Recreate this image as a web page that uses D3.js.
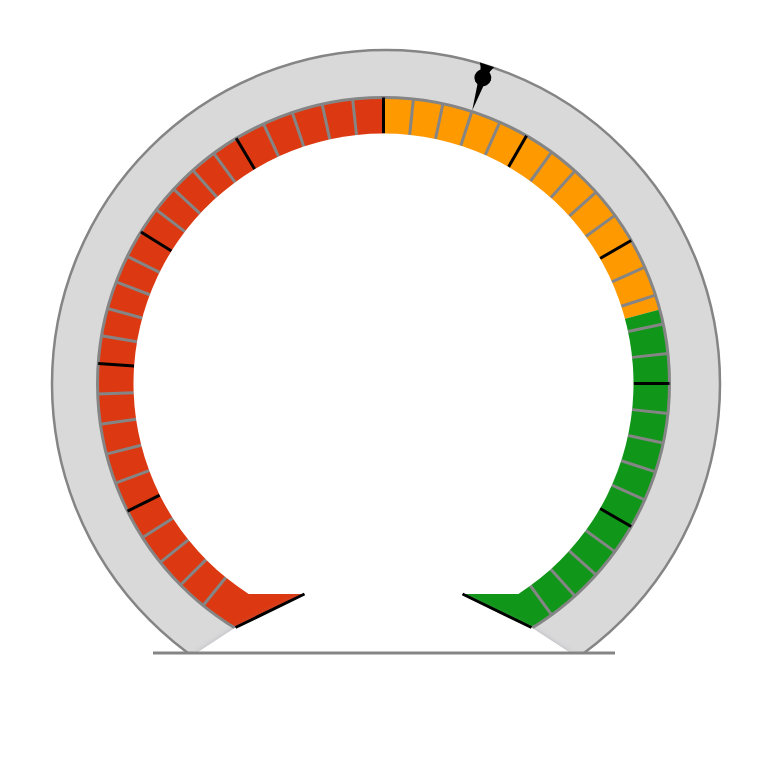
<!DOCTYPE html>
<html>
<head>
<meta charset="utf-8">
<script src="https://cdn.jsdelivr.net/npm/d3@7"></script>
<style>
  html, body { margin: 0; padding: 0; background: #fff; }
</style>
</head>
<body>
<svg id="chart" width="768" height="768"></svg>
<script>
// gauge data
const bandStarts = [0, 50, 75];
const bandEnds = [50, 75, 100];
const majorTicks = [10, 20, 30, 40, 50, 60, 70, 80, 90];
const minorTicks = [2, 4, 6, 8, 12, 14, 16, 18, 22, 24, 26, 28, 32, 34, 36, 38, 42, 44, 46, 48,
                    52, 54, 56, 58, 62, 64, 66, 68, 72, 74, 76, 78, 82, 84, 86, 88, 92, 94, 96, 98];
const needleValue = 56;

const bandColors = ["#dc3912", "#ff9900", "#109618"];

const width = 768;
const height = 768;
const cx = 383.5, cy = 383.5;      // centre of the scale
const ringCx = 386, ringCy = 384;  // centre of the grey bezel
const ringR = 334;
const outerR = 286;
const innerR = 250;
const chordY = 210.5;              // where the dial face is cut off at the bottom
const baseY = 653;

// value -> angle (degrees, clockwise from 12 o'clock)
const angle = d3.scaleLinear()
    .domain([0, 10, 20, 30, 40, 50, 100])
    .range([-147, -116.5, -86, -58, -31, 0, 150]);
const rad = v => angle(v) * Math.PI / 180;

const svg = d3.select("#chart");
svg.selectAll("*").remove();

const defs = svg.append("defs");
const shadow = defs.append("filter")
    .attr("id", "shadow")
    .attr("x", "-20%").attr("y", "-20%")
    .attr("width", "140%").attr("height", "140%");
shadow.append("feDropShadow")
    .attr("dx", 0).attr("dy", 0)
    .attr("stdDeviation", 2.5)
    .attr("flood-color", "#8a8aa0")
    .attr("flood-opacity", 0.45);

// grey bezel
svg.append("circle")
    .attr("cx", ringCx)
    .attr("cy", ringCy)
    .attr("r", ringR)
    .attr("fill", "#d9d9d9")
    .attr("stroke", "#858585")
    .attr("stroke-width", 2.5);

const g = svg.append("g")
    .attr("transform", `translate(${cx},${cy})`);

// coloured bands (end bands run on into the base)
const bandArc = d3.arc().innerRadius(0).outerRadius(outerR);
g.selectAll("path.band")
    .data(bandStarts.map((s, i) => ({ start: s, end: bandEnds[i], color: bandColors[i], i })))
    .join("path")
    .attr("class", "band")
    .attr("d", d => bandArc({
        startAngle: d.i === 0 ? -Math.PI : rad(d.start),
        endAngle: d.i === bandStarts.length - 1 ? Math.PI : rad(d.end)
    }))
    .attr("fill", d => d.color);

g.append("circle")
    .attr("r", outerR)
    .attr("fill", "none")
    .attr("stroke", "#858585")
    .attr("stroke-width", 3);

// ticks
const tickLine = (sel, values, color) => {
    sel.selectAll(null)
        .data(values)
        .join("line")
        .attr("x1", d => innerR * Math.sin(rad(d)))
        .attr("y1", d => -innerR * Math.cos(rad(d)))
        .attr("x2", d => outerR * Math.sin(rad(d)))
        .attr("y2", d => -outerR * Math.cos(rad(d)))
        .attr("stroke", color)
        .attr("stroke-width", 3);
};
tickLine(g.append("g"), minorTicks, "#858585");
tickLine(g.append("g"), majorTicks, "#000");

// white base that hides the bottom of the dial
const floor = baseY - cy;
const base = [[-79, chordY], [79, chordY], [148, 244], [187, floor], [-187, floor], [-148, 244]];
g.append("path")
    .attr("d", d3.line()(base) + "Z")
    .attr("fill", "#fff")
    .attr("filter", "url(#shadow)");
g.append("rect")
    .attr("x", -cx).attr("y", floor)
    .attr("width", width).attr("height", height - baseY)
    .attr("fill", "#fff");

// dial face, cut flat at the bottom
const cxh = Math.sqrt(innerR * innerR - chordY * chordY);
g.append("path")
    .attr("d", `M${-cxh},${chordY} A${innerR},${innerR} 0 1 1 ${cxh},${chordY} Z`)
    .attr("fill", "#fff");

// black edges of the base
g.append("g").selectAll("line")
    .data([[base[5], base[0]], [base[1], base[2]]])
    .join("line")
    .attr("x1", d => d[0][0]).attr("y1", d => d[0][1])
    .attr("x2", d => d[1][0]).attr("y2", d => d[1][1])
    .attr("stroke", "#000")
    .attr("stroke-width", 3);

// floor line
svg.append("line")
    .attr("x1", 153).attr("x2", 615)
    .attr("y1", baseY).attr("y2", baseY)
    .attr("stroke", "#858585")
    .attr("stroke-width", 3);

// needle marker
const needle = g.append("g")
    .attr("transform", `rotate(${angle(needleValue)})`)
    .attr("fill", "#000");
needle.append("path")
    .attr("d", `M0,${-outerR - 1} L3.5,-317 L-3.5,-317 Z`);
needle.append("circle")
    .attr("cy", -321.5)
    .attr("r", 8.5);
needle.append("path")
    .attr("d", "M-4,-326 Q-5,-331 -7.5,-335 L7.5,-335 Q5,-331 4,-326 Z");
</script>
</body>
</html>
